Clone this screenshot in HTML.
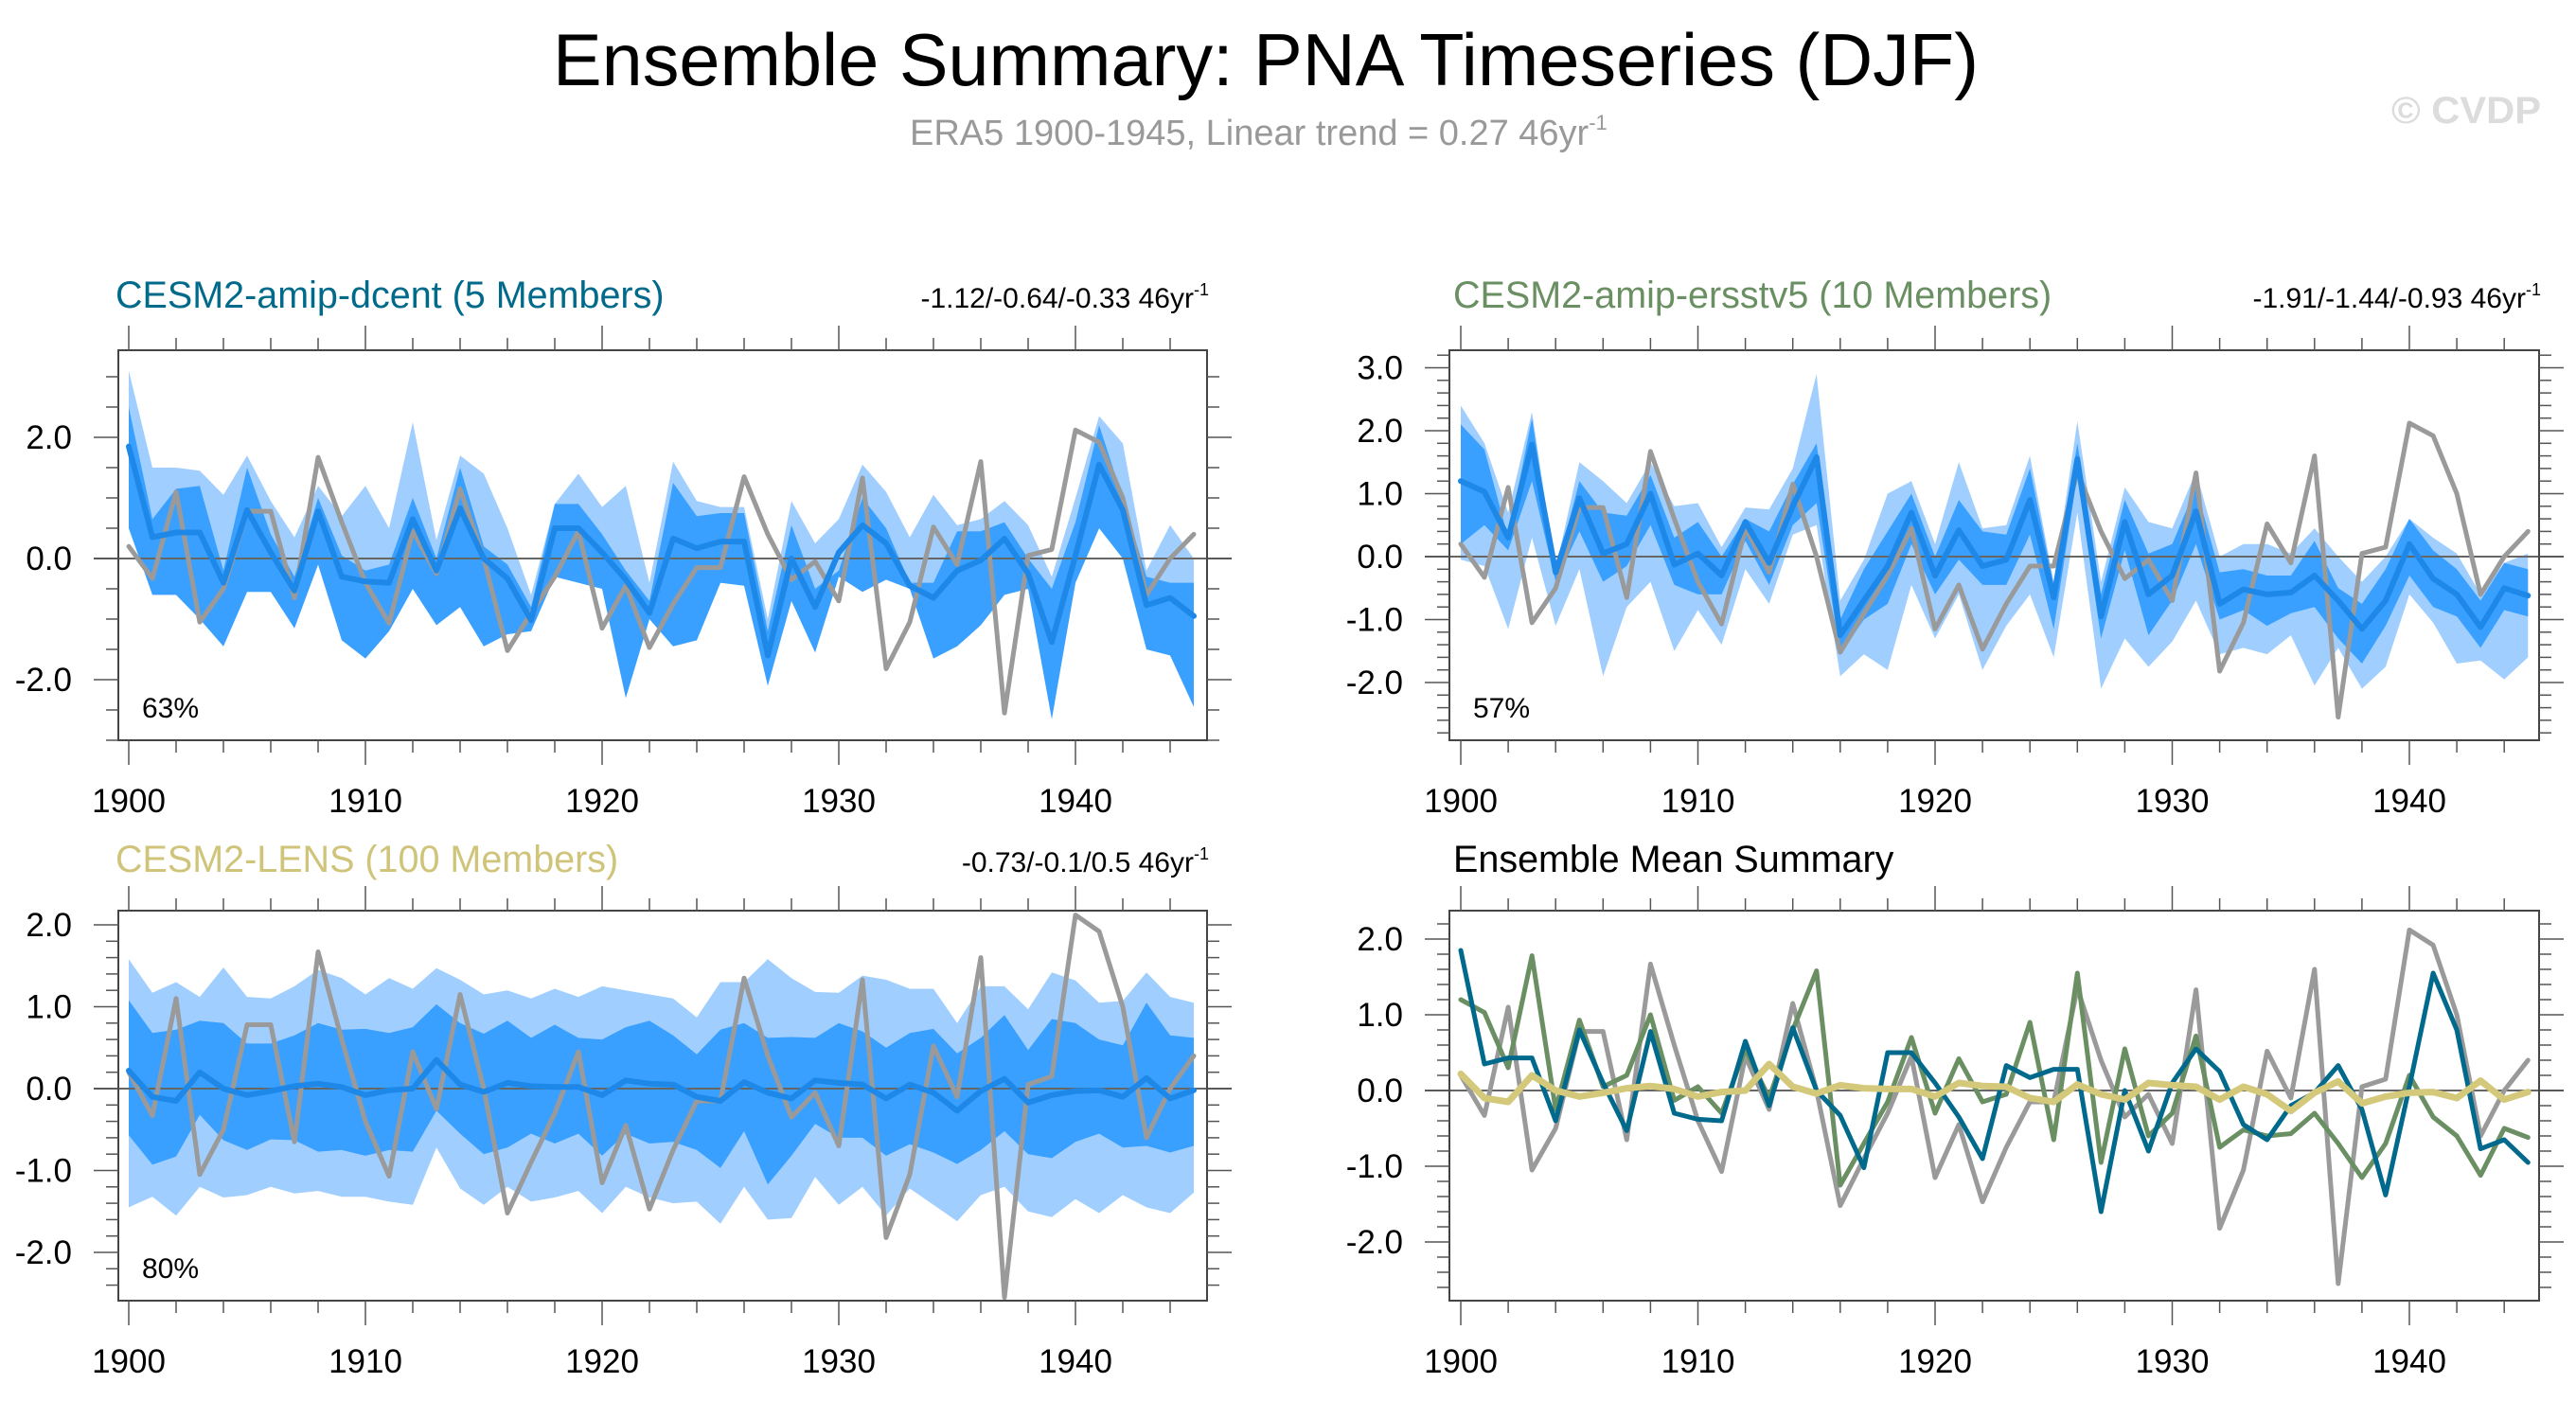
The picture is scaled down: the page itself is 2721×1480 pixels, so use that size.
<!DOCTYPE html>
<html><head><meta charset="utf-8">
<style>
html,body{margin:0;padding:0;background:#fff;}
svg{display:block;font-family:"Liberation Sans",Arial,sans-serif;}
</style></head>
<body>
<svg id="chart" width="2721" height="1480" viewBox="0 0 2721 1480" xmlns="http://www.w3.org/2000/svg">
<rect width="2721" height="1480" fill="#fff"/>
<text x="1337" y="90" font-size="78" text-anchor="middle" textLength="1506" lengthAdjust="spacingAndGlyphs">Ensemble Summary: PNA Timeseries (DJF)</text>
<text x="961" y="153" font-size="38" fill="#999">ERA5 1900-1945, Linear trend = 0.27 46yr<tspan font-size="22" dy="-16">-1</tspan></text>
<text x="2684" y="130" font-size="40" font-weight="bold" fill="#dcdcdc" text-anchor="end" textLength="158" lengthAdjust="spacingAndGlyphs">© CVDP</text>
<g id="panels"></g>
</svg>
<script>
const years = [];
for (let y = 1900; y <= 1945; y++) years.push(y);
const era5 = [0.2,-0.33,1.1,-1.05,-0.5,0.78,0.78,-0.65,1.67,0.6,-0.4,-1.07,0.45,-0.25,1.15,0.0,-1.52,-0.9,-0.3,0.45,-1.15,-0.45,-1.47,-0.75,-0.15,-0.15,1.35,0.4,-0.35,-0.05,-0.7,1.33,-1.82,-1.05,0.52,-0.1,1.6,-2.55,0.05,0.15,2.12,1.92,1.0,-0.6,0.0,0.4];
const dcentMean = [1.85,0.35,0.43,0.43,-0.4,0.8,0.1,-0.53,0.78,-0.3,-0.38,-0.4,0.65,-0.2,0.83,0.0,-0.33,-1.02,0.5,0.5,0.1,-0.35,-0.9,0.33,0.17,0.28,0.28,-1.6,0.0,-0.8,0.1,0.55,0.25,-0.45,-0.65,-0.2,-0.03,0.33,-0.25,-1.38,0.05,1.55,0.8,-0.77,-0.65,-0.95];
const dcentMax = [3.1,1.5,1.5,1.45,1.05,1.7,0.95,0.35,1.2,0.7,1.2,0.5,2.25,0.3,1.7,1.4,0.5,-0.6,0.9,1.4,0.85,1.2,-0.4,1.6,0.95,0.85,0.85,-1.0,0.95,0.25,0.65,1.55,1.1,0.35,1.05,0.55,0.65,0.95,0.55,-0.3,1.0,2.35,1.9,-0.2,0.55,0.0];
const dcentHi = [2.5,0.65,1.15,1.2,-0.2,1.5,0.4,-0.3,1.0,0.05,-0.2,-0.1,1.0,0.0,1.5,0.2,-0.1,-0.8,0.9,0.9,0.4,-0.2,-0.7,1.25,0.7,0.75,0.75,-1.2,0.55,-0.5,-0.2,1.0,0.5,-0.4,-0.4,0.45,0.45,0.6,0.0,-0.5,0.6,2.2,1.0,-0.3,-0.4,-0.4];
const dcentLo = [0.5,-0.6,-0.6,-1.0,-1.45,-0.55,-0.55,-1.15,-0.1,-1.35,-1.65,-1.2,-0.5,-1.1,-0.8,-1.45,-1.25,-1.2,-0.3,-0.4,-0.5,-2.3,-1.0,-1.45,-1.35,-0.4,-0.45,-2.1,-0.7,-1.55,-0.3,-0.55,-0.35,-0.5,-1.65,-1.45,-1.1,-0.6,-0.5,-2.65,-0.4,0.5,0.0,-1.5,-1.6,-2.45];
const dcentMin = [0.5,-0.6,-0.6,-1.0,-1.45,-0.55,-0.55,-1.15,-0.1,-1.35,-1.65,-1.2,-0.5,-1.1,-0.8,-1.45,-1.25,-1.2,-0.3,-0.4,-0.5,-2.3,-1.0,-1.45,-1.35,-0.4,-0.45,-2.1,-0.7,-1.55,-0.3,-0.55,-0.35,-0.5,-1.65,-1.45,-1.1,-0.6,-0.5,-2.65,-0.4,0.5,0.0,-1.5,-1.6,-2.45];
const ersstMean = [1.2,1.03,0.3,1.78,-0.25,0.93,0.05,0.2,1.0,-0.13,0.05,-0.3,0.55,-0.1,0.8,1.58,-1.25,-0.7,-0.15,0.7,-0.3,0.42,-0.15,-0.05,0.9,-0.65,1.55,-0.95,0.55,-0.6,-0.3,0.72,-0.75,-0.52,-0.6,-0.57,-0.3,-0.7,-1.15,-0.7,0.2,-0.35,-0.6,-1.12,-0.5,-0.62];
const ersstMax = [2.4,1.8,0.7,2.3,-0.2,1.5,1.2,0.85,1.5,0.8,0.85,0.15,0.78,0.75,1.4,2.9,-0.7,-0.05,1.0,1.2,0.2,1.5,0.45,0.5,1.6,-0.4,2.15,-0.4,1.1,0.55,0.45,1.35,0.0,0.2,0.2,0.05,0.45,0.0,-0.4,0.0,0.6,0.3,0.05,-0.6,-0.1,0.05];
const ersstHi = [2.1,1.7,0.3,2.2,-0.25,1.2,0.7,0.65,1.3,0.3,0.55,0.0,0.6,0.4,1.15,1.8,-1.0,-0.2,0.4,1.0,0.0,0.9,0.4,0.35,1.4,-0.45,1.8,-0.6,0.9,0.05,0.2,1.1,-0.25,-0.2,-0.3,-0.3,0.25,-0.5,-0.75,-0.2,0.6,0.1,-0.2,-0.7,-0.1,-0.2];
const ersstLo = [0.2,0.5,0.1,1.2,-0.4,0.4,-0.4,-0.15,0.5,-0.45,-0.6,-0.6,0.25,-0.45,0.5,0.85,-1.55,-1.0,-0.75,0.2,-0.6,-0.05,-0.45,-0.45,0.35,-1.15,1.3,-1.3,0.1,-1.25,-0.7,0.2,-1.0,-0.85,-1.1,-0.9,-0.8,-1.3,-1.7,-1.1,-0.3,-0.8,-0.95,-1.45,-0.85,-0.95];
const ersstMin = [-0.05,-0.15,-1.15,0.3,-1.1,-0.2,-1.9,-0.8,-0.4,-1.5,-0.85,-1.4,-0.2,-0.75,0.35,0.5,-1.9,-1.55,-1.8,-0.45,-1.3,-0.6,-1.8,-1.1,-0.6,-1.6,0.7,-2.1,-1.3,-1.75,-1.35,-0.7,-1.55,-1.45,-1.55,-1.25,-2.05,-1.45,-2.1,-1.75,-0.6,-1.05,-1.7,-1.65,-1.95,-1.6];
const lensMean = [0.22,-0.1,-0.15,0.2,0.0,-0.08,-0.03,0.03,0.06,0.02,-0.08,-0.02,0.0,0.35,0.05,-0.04,0.07,0.03,0.02,0.02,-0.08,0.1,0.06,0.05,-0.1,-0.15,0.08,-0.05,-0.12,0.1,0.07,0.05,-0.12,0.05,-0.05,-0.27,-0.03,0.12,-0.17,-0.08,-0.03,-0.02,-0.1,0.13,-0.12,-0.02];
const lensMax = [1.58,1.17,1.3,1.12,1.48,1.12,1.1,1.25,1.45,1.35,1.15,1.35,1.22,1.47,1.33,1.15,1.2,1.1,1.22,1.12,1.25,1.2,1.15,1.1,0.87,1.3,1.3,1.58,1.35,1.18,1.17,1.38,1.33,1.22,1.22,0.8,1.25,1.25,0.97,1.42,1.32,1.05,1.07,1.42,1.12,1.05];
const lensHi = [1.08,0.68,0.72,0.83,0.8,0.55,0.55,0.65,0.8,0.72,0.73,0.68,0.75,1.03,0.8,0.67,0.83,0.62,0.78,0.62,0.6,0.75,0.83,0.65,0.42,0.72,0.8,0.62,0.63,0.62,0.8,0.7,0.5,0.68,0.73,0.43,0.62,0.9,0.47,0.85,0.8,0.6,0.53,1.05,0.65,0.62];
const lensLo = [-0.57,-0.93,-0.83,-0.32,-0.63,-0.75,-0.62,-0.63,-0.77,-0.75,-0.82,-0.75,-0.77,-0.27,-0.55,-0.8,-0.72,-0.55,-0.67,-0.55,-0.82,-0.55,-0.67,-0.65,-0.75,-0.97,-0.52,-1.17,-0.82,-0.43,-0.6,-0.6,-0.82,-0.68,-0.78,-0.92,-0.75,-0.52,-0.8,-0.85,-0.65,-0.55,-0.72,-0.7,-0.78,-0.7];
const lensMin = [-1.45,-1.32,-1.55,-1.2,-1.33,-1.3,-1.2,-1.28,-1.25,-1.32,-1.32,-1.38,-1.42,-0.72,-1.22,-1.42,-1.2,-1.38,-1.33,-1.25,-1.52,-1.2,-1.33,-1.4,-1.38,-1.65,-1.2,-1.6,-1.58,-1.08,-1.42,-1.2,-1.55,-1.22,-1.42,-1.62,-1.3,-1.2,-1.5,-1.57,-1.35,-1.52,-1.3,-1.45,-1.52,-1.27];
const xTickLabels = ["1900","1910","1920","1930","1940"];

const NS = "http://www.w3.org/2000/svg";
const root = document.getElementById("panels");
function mk(tag, attrs, parent) {
  const e = document.createElementNS(NS, tag);
  for (const k in attrs) e.setAttribute(k, attrs[k]);
  (parent || root).appendChild(e);
  return e;
}

function panel(cfg) {
  const g = mk("g", {});
  
  
  const L = cfg.x0, R = cfg.x1, T = cfg.y0, B = cfg.y1;
  const xs = yr => cfg.xa + (yr - 1900) * cfg.xs;
  const ys = v => cfg.zero - v * cfg.unit;
  const band = (hi, lo, fill, nm) => {
    let d = "";
    years.forEach((y, i) => { d += (i ? "L" : "M") + xs(y).toFixed(1) + "," + ys(hi[i]).toFixed(1); });
    for (let i = years.length - 1; i >= 0; i--) d += "L" + xs(years[i]).toFixed(1) + "," + ys(lo[i]).toFixed(1);
    const p = mk("path", { d: d + "Z", fill: fill }, g);
    
    
  };
  const line = (vals, col, w, nm) => {
    const pts = years.map((y, i) => xs(y).toFixed(1) + "," + ys(vals[i]).toFixed(1)).join(" ");
    const p = mk("polyline", { points: pts, fill: "none", stroke: col, "stroke-width": w, "stroke-linejoin": "round", "stroke-linecap": "round" }, g);
    
    
  };
  if (cfg.bands) {
    band(cfg.bands[0], cfg.bands[3], "#a0cfff", "range-band-light");
    band(cfg.bands[1], cfg.bands[2], "#3aa0ff", "range-band-dark");
  }
  const z = mk("line", { x1: L - 26, x2: R + 26, y1: ys(0), y2: ys(0), stroke: "#666", "stroke-width": 2 }, g);
  
  
  cfg.lines.forEach(l => line(l[0], l[1], l[2], l[3]));
  const fr = mk("rect", { x: L, y: T, width: R - L, height: B - T, fill: "none", stroke: "#444", "stroke-width": 2 }, g);
  
  
  for (let yr = 1900; yr <= 1945; yr += 2) {
    const major = (yr % 10 === 0);
    const len = major ? 26 : 13;
    const x = xs(yr);
    mk("line", { x1: x, x2: x, y1: T, y2: T - len, stroke: "#555", "stroke-width": 1.5 }, g);
    mk("line", { x1: x, x2: x, y1: B, y2: B + len, stroke: "#555", "stroke-width": 1.5 }, g);
  }
  xTickLabels.forEach(lbl => {
    const t = mk("text", { x: xs(+lbl), y: B + 76, "font-size": 35, "text-anchor": "middle" }, g);
    
    
    t.textContent = lbl;
  });
  const vmin = (cfg.zero - B) / cfg.unit, vmax = (cfg.zero - T) / cfg.unit;
  const nMin = Math.ceil(vmin / cfg.minor - 1e-6), nMax = Math.floor(vmax / cfg.minor + 1e-6);
  for (let n = nMin; n <= nMax; n++) {
    const v = n * cfg.minor;
    const isMaj = Math.abs(v / cfg.major - Math.round(v / cfg.major)) < 1e-6;
    const len = isMaj ? 26 : 13;
    const y = ys(v);
    mk("line", { x1: L, x2: L - len, y1: y, y2: y, stroke: "#555", "stroke-width": 1.5 }, g);
    mk("line", { x1: R, x2: R + len, y1: y, y2: y, stroke: "#555", "stroke-width": 1.5 }, g);
    if (isMaj) {
      const t = mk("text", { x: L - 49, y: y + 12, "font-size": 35, "text-anchor": "end" }, g);
      
      
      t.textContent = v.toFixed(1);
    }
  }
  const tt = mk("text", { x: cfg.titleX, y: cfg.titleY, "font-size": 39.5, fill: cfg.titleColor }, g);
  
  
  tt.textContent = cfg.title;
  if (cfg.trend) {
    const tr = mk("text", { x: R + 2, y: cfg.titleY, "font-size": 30, "text-anchor": "end" }, g);
    
    
    tr.textContent = cfg.trend + " 46yr";
    const sup = mk("tspan", { "font-size": 18, dy: -13 }, tr);
    sup.textContent = "-1";
  }
  if (cfg.pct) {
    const p = mk("text", { x: L + 25, y: B - 24, "font-size": 30 }, g);
    
    
    p.textContent = cfg.pct;
  }
}

panel({ name: "panel-amip-dcent", x0: 125, x1: 1275, y0: 370, y1: 782, xa: 136, xs: 25.0, zero: 590, unit: 64, major: 2, minor: 0.5,
  title: "CESM2-amip-dcent (5 Members)", titleColor: "#006a8a", titleX: 122, titleY: 325, trend: "-1.12/-0.64/-0.33", pct: "63%",
  bands: [dcentMax, dcentHi, dcentLo, dcentMin],
  lines: [[era5, "#9a9a9a", 5, "era5-line"], [dcentMean, "#1e88e8", 6, "ensemble-mean-line"]] });
panel({ name: "panel-amip-ersstv5", x0: 1531, x1: 2682, y0: 370, y1: 782, xa: 1543, xs: 25.05, zero: 588, unit: 66.5, major: 1, minor: 0.2,
  title: "CESM2-amip-ersstv5 (10 Members)", titleColor: "#6a8f62", titleX: 1535, titleY: 325, trend: "-1.91/-1.44/-0.93", pct: "57%",
  bands: [ersstMax, ersstHi, ersstLo, ersstMin],
  lines: [[era5, "#9a9a9a", 5, "era5-line"], [ersstMean, "#1e88e8", 6, "ensemble-mean-line"]] });
panel({ name: "panel-lens", x0: 125, x1: 1275, y0: 962, y1: 1374, xa: 136, xs: 25.0, zero: 1150, unit: 86.5, major: 1, minor: 0.2,
  title: "CESM2-LENS (100 Members)", titleColor: "#cfc47a", titleX: 122, titleY: 921, trend: "-0.73/-0.1/0.5", pct: "80%",
  bands: [lensMax, lensHi, lensLo, lensMin],
  lines: [[era5, "#9a9a9a", 5, "era5-line"], [lensMean, "#1e88e8", 6, "ensemble-mean-line"]] });
panel({ name: "panel-ensemble-mean-summary", x0: 1531, x1: 2682, y0: 962, y1: 1374, xa: 1543, xs: 25.05, zero: 1152, unit: 80, major: 1, minor: 0.2,
  title: "Ensemble Mean Summary", titleColor: "#000", titleX: 1535, titleY: 921,
  lines: [[era5, "#9a9a9a", 5, "era5-line"], [ersstMean, "#6a8f62", 5, "ersstv5-mean-line"], [dcentMean, "#00698c", 5, "dcent-mean-line"], [lensMean, "#d4c87a", 7, "lens-mean-line"]] });
</script>
</body></html>
